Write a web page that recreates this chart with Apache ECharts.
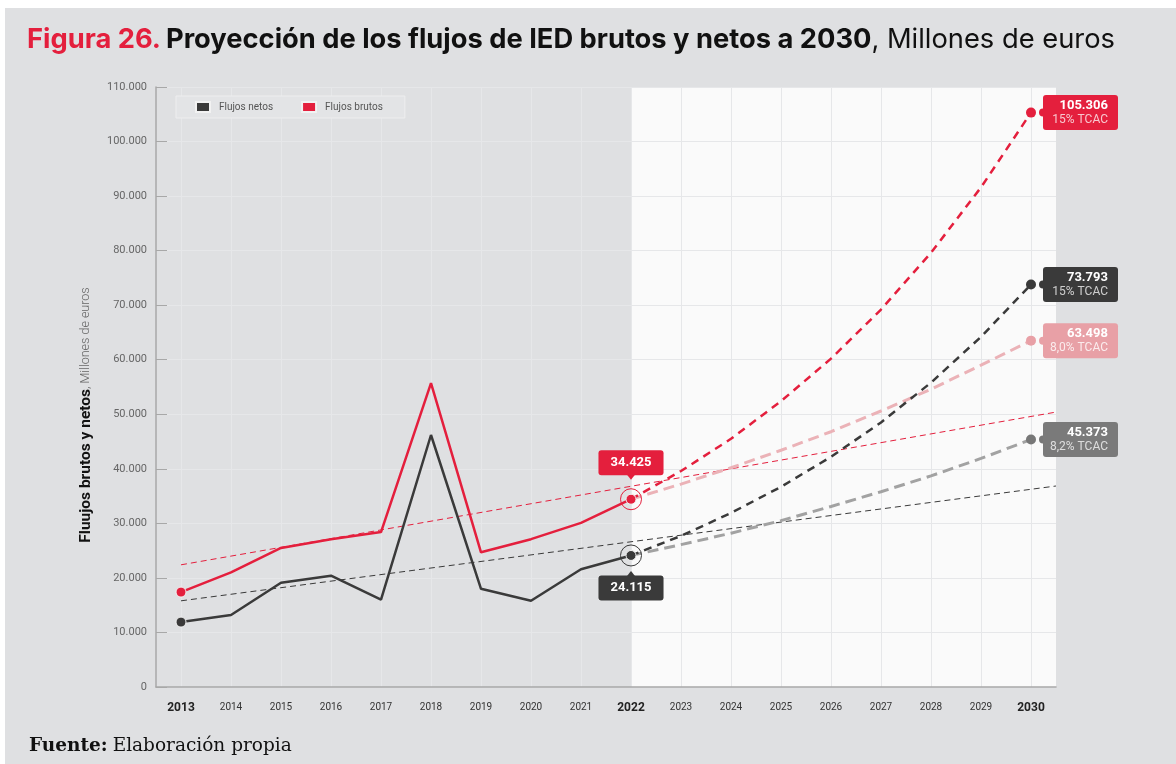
<!DOCTYPE html>
<html>
<head>
<meta charset="utf-8">
<script src="https://cdn.jsdelivr.net/npm/echarts@6/dist/echarts.min.js"></script>
<style>
  html, body { margin: 0; padding: 0; background: #ffffff; }
  #chart { width: 1176px; height: 764px; }
</style>
</head>
<body>
<div id="chart"></div>
<script>
// Years on the horizontal axis (observed 2013-2022, projected 2023-2030)
const years = ['2013', '2014', '2015', '2016', '2017', '2018', '2019', '2020', '2021', '2022',
               '2023', '2024', '2025', '2026', '2027', '2028', '2029', '2030'];
const keyYears = ['2013', '2022', '2030'];

// Observed flows, millones de euros (2013-2022)
const netos  = [11900, 13200, 19100, 20400, 16000, 46200, 18000, 15800, 21600, 24115];
const brutos = [17400, 21000, 25500, 27100, 28400, 55700, 24700, 27100, 30100, 34425];

// Projected flows 2023-2030
const brutosAlto = [39600, 45500, 52400, 60200, 69200, 79600, 91600, 105306];
const netosAlto  = [27700, 31900, 36700, 42200, 48500, 55800, 64200, 73793];
const brutosBajo = [37200, 40200, 43400, 46800, 50600, 54600, 59000, 63498];
const netosBajo  = [26100, 28200, 30500, 33100, 35800, 38700, 41900, 45373];

// Growth-rate captions for the projections
const tcacBrutosAlto = '15% TCAC';
const tcacNetosAlto  = '15% TCAC';
const tcacBrutosBajo = '8,0% TCAC';
const tcacNetosBajo  = '8,2% TCAC';

// Linear trend lines: [x position in category units, value]
const trendBrutos = [[0, 22400], [17.5, 50400]];
const trendNetos  = [[0, 15800], [17.5, 36850]];

// Projection zone on the category-unit axis
const projZone = [9, 17.5];

// Y axis scale
const yMin = 0, yMax = 110000, yStep = 10000;

const RED = '#e41f3d', DARK = '#3a3a3a', PINK = '#ebb2b7', PINKBOX = '#e8a0a6', GREY = '#a2a2a2', GREYBOX = '#7a7a7a';
const FONT = 'Roboto';

function fmt(n) { return String(n).replace(/\B(?=(\d{3})+(?!\d))/g, '.'); }

const last = years.length - 1;
const obsLast = netos.length - 1;

function observed(values) {
  return values.map((v, i) => (i === 0 || i === obsLast) ? { value: v, symbol: 'circle', symbolSize: 10 } : v);
}
function projected(start, proj) {
  return years.map((y, i) => {
    if (i < obsLast) return null;
    if (i === obsLast) return start;
    const v = proj[i - obsLast - 1];
    return i === last ? { value: v, symbol: 'circle', symbolSize: 10 } : v;
  });
}
function endLabel(value, caption, boxColor, dotColor, captionColor) {
  return {
    symbol: 'circle', symbolSize: 8, symbolOffset: [12, 0], silent: true,
    itemStyle: { color: dotColor },
    label: {
      show: true, position: ['50%', '50%'], align: 'left', verticalAlign: 'middle',
      formatter: '{v|' + fmt(value) + '}\n{t|' + caption + '}',
      backgroundColor: boxColor, borderRadius: 3, padding: [3, 10, 3, 10], width: 55,
      rich: {
        v: { fontFamily: FONT, fontSize: 13, fontWeight: 'bold', color: '#ffffff', align: 'right', lineHeight: 15 },
        t: { fontFamily: FONT, fontSize: 12, color: captionColor, align: 'right', lineHeight: 14 }
      }
    },
    data: [{ coord: [years[last], value] }]
  };
}

const chart = echarts.init(document.getElementById('chart'), null, { renderer: 'canvas' });

const option = {
  backgroundColor: '#ffffff',
  animation: false,
  title: [
    {
      left: 27, top: 26, padding: 0,
      text: '{r|Figura 26.} {b|Proyección de los flujos de IED brutos y netos a 2030}{n|, Millones de euros}',
      textStyle: {
        rich: {
          r: { fontFamily: 'Inter', fontSize: 27.3, fontWeight: 'bold', color: RED },
          b: { fontFamily: 'Inter', fontSize: 27.3, fontWeight: 'bold', color: '#111111' },
          n: { fontFamily: 'Inter', fontSize: 27.3, fontWeight: 'normal', color: '#111111' }
        }
      }
    },
    {
      left: 29, top: 737, padding: 0,
      text: '{b|Fuente:} {n|Elaboración propia}',
      textStyle: {
        fontWeight: 'normal',
        rich: {
          b: { fontFamily: 'DejaVu Serif', fontSize: 18.5, fontWeight: 'bold', color: '#111111' },
          n: { fontFamily: 'DejaVu Serif', fontSize: 18.5, fontWeight: 'normal', color: '#111111' }
        }
      }
    }
  ],
  graphic: [
    { type: 'rect', z: -100, silent: true, shape: { x: 5, y: 8, width: 1171, height: 756 }, style: { fill: '#dfe0e2' } },
    {
      type: 'text', x: 86, y: 415, rotation: Math.PI / 2, silent: true,
      style: {
        text: '{b|Fluujos brutos y netos}{n|, Millones de euros}',
        align: 'center', verticalAlign: 'middle',
        rich: {
          b: { fontFamily: FONT, fontSize: 15.5, fontWeight: 'bold', fill: '#111111' },
          n: { fontFamily: FONT, fontSize: 12.5, fontWeight: 300, fill: '#666666' }
        }
      }
    }
  ],
  legend: {
    left: 176, top: 96,
    data: ['Flujos netos', 'Flujos brutos'],
    icon: 'rect', itemWidth: 14, itemHeight: 10, itemGap: 28,
    padding: [5, 22, 5, 19],
    backgroundColor: '#e3e4e6', borderColor: '#eeeeef', borderWidth: 1,
    textStyle: { fontFamily: FONT, fontSize: 10, color: '#555555', padding: [0, 0, 0, 4] },
    selectedMode: false
  },
  grid: { left: 156, right: 120, top: 87, bottom: 77, containLabel: false },
  xAxis: [
    {
      type: 'category', data: years, boundaryGap: true,
      axisLine: { show: true, onZero: false, lineStyle: { color: '#a8a8a8', width: 1.5 } },
      axisTick: { show: false },
      splitLine: { show: false },
      axisLabel: {
        margin: 15, interval: 0,
        formatter: v => keyYears.includes(v) ? '{k|' + v + '}' : '{n|' + v + '}',
        rich: {
          k: { fontFamily: FONT, fontSize: 12, fontWeight: 'bold', color: '#222222' },
          n: { fontFamily: FONT, fontSize: 10, color: '#333333' }
        }
      }
    },
    { type: 'value', min: -0.5, max: 17.5, show: false }
  ],
  yAxis: {
    type: 'value', min: yMin, max: yMax, interval: yStep,
    axisLine: { show: true, onZero: false, lineStyle: { color: '#a8a8a8', width: 1.5 } },
    axisTick: { show: true, inside: true, length: 11, lineStyle: { color: '#a8a8a8', width: 1 } },
    splitLine: { show: true, lineStyle: { color: '#e6e7e9', width: 1 } },
    axisLabel: { fontFamily: FONT, fontSize: 11, color: '#666666', margin: 9, formatter: v => fmt(v) }
  },
  series: [
    // white projection zone
    {
      type: 'line', xAxisIndex: 1, data: [], silent: true,
      markArea: { z: -2, silent: true, itemStyle: { color: '#fafafa' }, data: [[{ xAxis: projZone[0] }, { xAxis: projZone[1] }]] }
    },
    // vertical grid lines at each year
    {
      type: 'line', xAxisIndex: 0, data: [], silent: true,
      markLine: {
        z: -1, silent: true, symbol: ['none', 'none'], label: { show: false },
        lineStyle: { color: '#e6e7e9', width: 1, type: 'solid' },
        data: years.map(y => ({ xAxis: y }))
      }
    },
    // trend lines
    {
      type: 'line', xAxisIndex: 1, data: trendBrutos, symbol: 'none', silent: true,
      lineStyle: { color: RED, width: 1, type: [6, 4] }
    },
    {
      type: 'line', xAxisIndex: 1, data: trendNetos, symbol: 'none', silent: true,
      lineStyle: { color: DARK, width: 1, type: [6, 4] }
    },
    // lower-growth projections
    {
      name: 'proy bajo brutos', type: 'line', data: projected(brutos[obsLast], brutosBajo),
      symbol: 'none', itemStyle: { color: PINKBOX }, lineStyle: { color: PINK, width: 3, type: [11, 6] },
      markPoint: endLabel(brutosBajo[brutosBajo.length - 1], tcacBrutosBajo, PINKBOX, PINKBOX, 'rgba(255,255,255,0.8)')
    },
    {
      name: 'proy bajo netos', type: 'line', data: projected(netos[obsLast], netosBajo),
      symbol: 'none', itemStyle: { color: '#777777' }, lineStyle: { color: GREY, width: 3, type: [11, 6] },
      markPoint: endLabel(netosBajo[netosBajo.length - 1], tcacNetosBajo, GREYBOX, '#777777', 'rgba(255,255,255,0.75)')
    },
    // high-growth projections
    {
      name: 'proy alto netos', type: 'line', data: projected(netos[obsLast], netosAlto),
      symbol: 'none', itemStyle: { color: DARK }, lineStyle: { color: DARK, width: 2.5, type: [8, 6] },
      markPoint: endLabel(netosAlto[netosAlto.length - 1], tcacNetosAlto, DARK, DARK, 'rgba(255,255,255,0.75)')
    },
    {
      name: 'proy alto brutos', type: 'line', data: projected(brutos[obsLast], brutosAlto),
      symbol: 'none', itemStyle: { color: RED }, lineStyle: { color: RED, width: 2.5, type: [8, 6] },
      markPoint: endLabel(brutosAlto[brutosAlto.length - 1], tcacBrutosAlto, RED, RED, 'rgba(255,255,255,0.75)')
    },
    // observed series
    {
      name: 'Flujos netos', type: 'line', data: observed(netos), symbol: 'none',
      itemStyle: { color: DARK, borderColor: '#f2f2f2', borderWidth: 1 },
      lineStyle: { color: DARK, width: 2.5 },
      markPoint: {
        silent: true,
        data: [
          {
            coord: [years[obsLast], netos[obsLast]], symbol: 'circle', symbolSize: 21,
            itemStyle: { color: 'rgba(0,0,0,0)', borderColor: DARK, borderWidth: 1 },
            label: {
              show: true, position: 'bottom', distance: 9, formatter: fmt(netos[obsLast]),
              backgroundColor: DARK, borderRadius: 3, padding: [5, 12, 5, 12],
              fontFamily: FONT, fontSize: 13, fontWeight: 'bold', color: '#ffffff', lineHeight: 15
            }
          },
          {
            coord: [years[obsLast], netos[obsLast]], symbol: 'triangle', symbolSize: [8, 5], symbolOffset: [0, 18],
            itemStyle: { color: DARK }, label: { show: false }
          }
        ]
      }
    },
    {
      name: 'Flujos brutos', type: 'line', data: observed(brutos), symbol: 'none',
      itemStyle: { color: RED, borderColor: '#f2f2f2', borderWidth: 1 },
      lineStyle: { color: RED, width: 2.5 },
      markPoint: {
        silent: true,
        data: [
          {
            coord: [years[obsLast], brutos[obsLast]], symbol: 'circle', symbolSize: 21,
            itemStyle: { color: 'rgba(0,0,0,0)', borderColor: RED, borderWidth: 1 },
            label: {
              show: true, position: 'top', distance: 13, formatter: fmt(brutos[obsLast]),
              backgroundColor: RED, borderRadius: 3, padding: [5, 12, 5, 12],
              fontFamily: FONT, fontSize: 13, fontWeight: 'bold', color: '#ffffff', lineHeight: 15
            }
          },
          {
            coord: [years[obsLast], brutos[obsLast]], symbol: 'triangle', symbolRotate: 180, symbolSize: [8, 5], symbolOffset: [0, -22],
            itemStyle: { color: RED }, label: { show: false }
          }
        ]
      }
    }
  ]
};

chart.setOption(option);
</script>
</body>
</html>
